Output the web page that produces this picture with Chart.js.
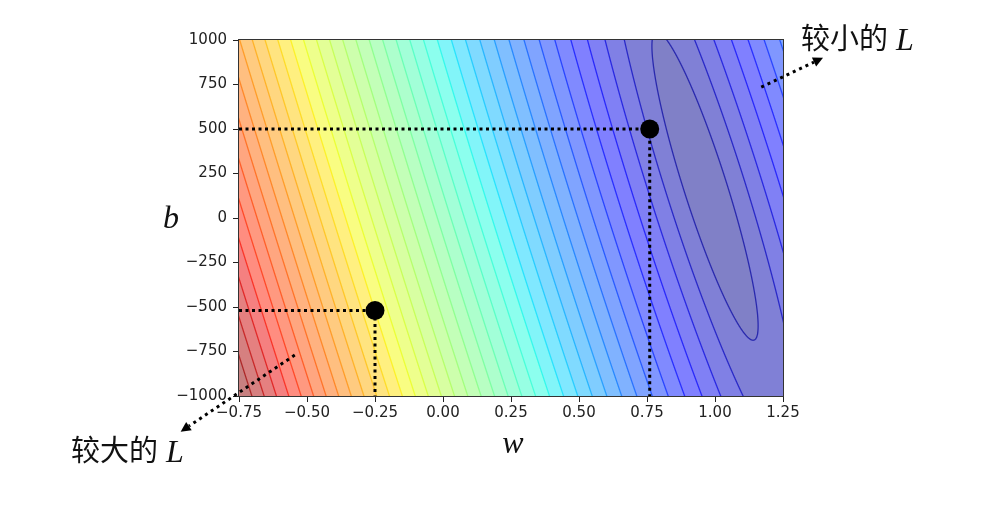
<!DOCTYPE html>
<html>
<head>
<meta charset="utf-8">
<script src="https://cdn.jsdelivr.net/npm/chart.js@4.4.0/dist/chart.umd.min.js"></script>
<style>
html, body { margin: 0; padding: 0; background: #fff; }
</style>
</head>
<body>
<canvas id="chart" width="984" height="513"></canvas>
<script>
// axis ticks
var wTicks = [-0.75, -0.5, -0.25, 0, 0.25, 0.5, 0.75, 1, 1.25]
var bTicks = [-1000, -750, -500, -250, 0, 250, 500, 750, 1000]

// the two marked (w, b) points
var pointW = [-0.25, 0.76]
var pointB = [-520, 500]

// arrows towards the two labels: [start, end of shaft]
var bigArrowW = [-0.545, -0.934]
var bigArrowB = [-770, -1169]
var smallArrowW = [1.17, 1.364]
var smallArrowB = [735, 876]

var bigLabel = '较大的'
var smallLabel = '较小的'

// loss surface
// valley runs along w + valleySlope*b = valleyW, narrow ellipse centred at b = centreB
var valleySlope = 0.000204
var valleyW = 1.0
var centreB = 180
var stretchB = 0.0091
var levelPower = 1.15
var levelCount = 38

function loss(w, b){
    var u = w + valleySlope * b - valleyW
    var v = (b - centreB) / 1000
    return Math.pow(u * u + stretchB * v * v, levelPower / 2)
}

// matplotlib 'jet'
var jetR = [[0, 0], [0.35, 0], [0.66, 1], [0.89, 1], [1, 0.5]]
var jetG = [[0, 0], [0.125, 0], [0.375, 1], [0.64, 1], [0.91, 0], [1, 0]]
var jetB = [[0, 0.5], [0.11, 1], [0.34, 1], [0.65, 0], [1, 0]]
function seg(tab, t){
    for (var i = 1; i < tab.length; i++){
        if (t <= tab[i][0]){
            var a = tab[i - 1], c = tab[i]
            return a[1] + (c[1] - a[1]) * (t - a[0]) / (c[0] - a[0])
        }
    }
    return tab[tab.length - 1][1]
}
function jet(t){
    t = Math.max(0, Math.min(1, t))
    return [seg(jetR, t), seg(jetG, t), seg(jetB, t)]
}

const surface = {
    id: 'surface',
    beforeDatasetsDraw(chart){
        const ctx = chart.ctx
        const area = chart.chartArea
        const xs = chart.scales.x, ys = chart.scales.y
        const dpr = chart.currentDevicePixelRatio || 1
        const x0 = Math.round(area.left * dpr), y0 = Math.round(area.top * dpr)
        const W = Math.round(area.right * dpr) - x0
        const H = Math.round(area.bottom * dpr) - y0
        const F = new Float32Array(W * H)
        let fmax = 0
        for (let j = 0; j < H; j++){
            const b = ys.getValueForPixel((y0 + j + 0.5) / dpr)
            for (let i = 0; i < W; i++){
                const w = xs.getValueForPixel((x0 + i + 0.5) / dpr)
                const f = loss(w, b)
                F[j * W + i] = f
                if (f > fmax) fmax = f
            }
        }
        const N = levelCount
        const step = fmax / N
        const lineW = 1.3 * dpr
        const img = ctx.createImageData(W, H)
        const d = img.data
        for (let j = 0; j < H; j++){
            for (let i = 0; i < W; i++){
                const k = j * W + i
                const v = F[k] / step
                const band = Math.min(Math.floor(v), N - 1)
                const c = jet((band + 0.5) / N)
                let r = 255 * (0.5 + 0.5 * c[0])
                let g = 255 * (0.5 + 0.5 * c[1])
                let bl = 255 * (0.5 + 0.5 * c[2])
                const il = i > 0 ? i - 1 : i, ir = i < W - 1 ? i + 1 : i
                const jt = j > 0 ? j - 1 : j, jb = j < H - 1 ? j + 1 : j
                const gx = (F[j * W + ir] - F[j * W + il]) / (ir - il) / step
                const gy = (F[jb * W + i] - F[jt * W + i]) / (jb - jt) / step
                const gm = Math.hypot(gx, gy) + 1e-9
                const n = Math.round(v)
                if (n >= 1 && n <= N - 1){
                    const dist = Math.abs(v - n) / gm
                    let a = Math.max(0, Math.min(1, lineW / 2 + 0.5 - dist)) * 0.68
                    if (a > 0){
                        const lc = jet(n / N)
                        r = r * (1 - a) + 255 * lc[0] * a
                        g = g * (1 - a) + 255 * lc[1] * a
                        bl = bl * (1 - a) + 255 * lc[2] * a
                    }
                }
                d[k * 4] = r
                d[k * 4 + 1] = g
                d[k * 4 + 2] = bl
                d[k * 4 + 3] = 255
            }
        }
        ctx.putImageData(img, x0, y0)
        ctx.save()
        ctx.strokeStyle = '#333'
        ctx.lineWidth = 1
        ctx.strokeRect(area.left - 0.5, area.top - 0.5, area.right - area.left + 1, area.bottom - area.top + 1)
        ctx.restore()
    }
}

// arrow heads at the end of the two arrow shafts (outside the plot area, so drawn here)
const heads = {
    id: 'heads',
    afterDatasetsDraw(chart){
        const ctx = chart.ctx
        const xs = chart.scales.x, ys = chart.scales.y
        ctx.save()
        ctx.fillStyle = '#000'
        ;[[bigArrowW, bigArrowB], [smallArrowW, smallArrowB]].forEach(function(a){
            const x1 = xs.getPixelForValue(a[0][0]), y1 = ys.getPixelForValue(a[1][0])
            const x2 = xs.getPixelForValue(a[0][1]), y2 = ys.getPixelForValue(a[1][1])
            const len = Math.hypot(x2 - x1, y2 - y1)
            const ux = (x2 - x1) / len, uy = (y2 - y1) / len
            ctx.beginPath()
            ctx.moveTo(x2 + ux * 10, y2 + uy * 10)
            ctx.lineTo(x2 - uy * 5, y2 + ux * 5)
            ctx.lineTo(x2 + uy * 5, y2 - ux * 5)
            ctx.closePath()
            ctx.fill()
        })
        ctx.restore()
    }
}

const texts = {
    id: 'texts',
    afterDraw(chart){
        const ctx = chart.ctx
        const area = chart.chartArea
        ctx.save()
        ctx.fillStyle = '#111'
        ctx.textAlign = 'center'
        ctx.textBaseline = 'alphabetic'
        ctx.font = 'italic 32px "Liberation Serif"'
        ctx.fillText('b', area.left - 68, (area.top + area.bottom) / 2 + 10)
        ctx.fillText('w', (area.left + area.right) / 2 + 2, area.bottom + 57)

        ctx.textAlign = 'left'
        ctx.textBaseline = 'middle'
        ctx.font = '29px "Noto Sans CJK SC"'
        ctx.fillText(bigLabel, 71, 450)
        ctx.fillText(smallLabel, 801, 38)
        ctx.textBaseline = 'alphabetic'
        ctx.font = 'italic 32px "Liberation Serif"'
        ctx.fillText('L', 166, 462)
        ctx.fillText('L', 896, 50)
        ctx.restore()
    }
}

function fmt(s){
    return s.replace('-', '\u2212')
}

var xMin = wTicks[0], xMax = wTicks[wTicks.length - 1]
var yMin = bTicks[0], yMax = bTicks[bTicks.length - 1]

var datasets = []
datasets.push({
    data: pointW.map(function(w, i){ return {x: w, y: pointB[i]} }),
    pointRadius: 9.5,
    pointBackgroundColor: '#000',
    pointBorderWidth: 0,
    showLine: false
})
pointW.forEach(function(w, i){
    datasets.push({
        data: [{x: xMin, y: pointB[i]}, {x: w, y: pointB[i]}, {x: w, y: yMin}],
        showLine: true,
        borderColor: '#000',
        borderWidth: 3,
        borderDash: [3, 3.5],
        borderCapStyle: 'butt',
        pointRadius: 0,
        tension: 0
    })
})
;[[bigArrowW, bigArrowB], [smallArrowW, smallArrowB]].forEach(function(a){
    datasets.push({
        data: [{x: a[0][0], y: a[1][0]}, {x: a[0][1], y: a[1][1]}],
        showLine: true,
        clip: false,
        borderColor: '#000',
        borderWidth: 3,
        borderDash: [3, 4],
        pointRadius: 0
    })
})

const chart = new Chart(document.getElementById('chart'), {
    type: 'scatter',
    data: { datasets: datasets },
    options: {
        responsive: false,
        animation: false,
        events: [],
        layout: { padding: { left: 0, right: 201, top: 40, bottom: 87 } },
        plugins: {
            legend: { display: false },
            tooltip: { enabled: false }
        },
        scales: {
            x: {
                type: 'linear',
                min: xMin,
                max: xMax,
                afterBuildTicks: function(s){ s.ticks = wTicks.map(function(v){ return {value: v} }) },
                afterFit: function(s){ s.height = 30 },
                ticks: {
                    callback: function(v){ return fmt(Number(v).toFixed(2)) },
                    font: { family: 'DejaVu Sans', size: 15 },
                    color: '#222',
                    padding: 2,
                    maxRotation: 0,
                    autoSkip: false
                },
                grid: { drawOnChartArea: false, drawTicks: true, tickLength: 6, color: '#222' },
                border: { display: false }
            },
            y: {
                type: 'linear',
                min: yMin,
                max: yMax,
                afterBuildTicks: function(s){ s.ticks = bTicks.map(function(v){ return {value: v} }) },
                afterFit: function(s){ s.width = 239 },
                ticks: {
                    callback: function(v){ return fmt(String(v)) },
                    font: { family: 'DejaVu Sans', size: 15 },
                    color: '#222',
                    padding: 6,
                    autoSkip: false
                },
                grid: { drawOnChartArea: false, drawTicks: true, tickLength: 6, color: '#222' },
                border: { display: false }
            }
        }
    },
    plugins: [surface, heads, texts]
})
</script>
</body>
</html>
